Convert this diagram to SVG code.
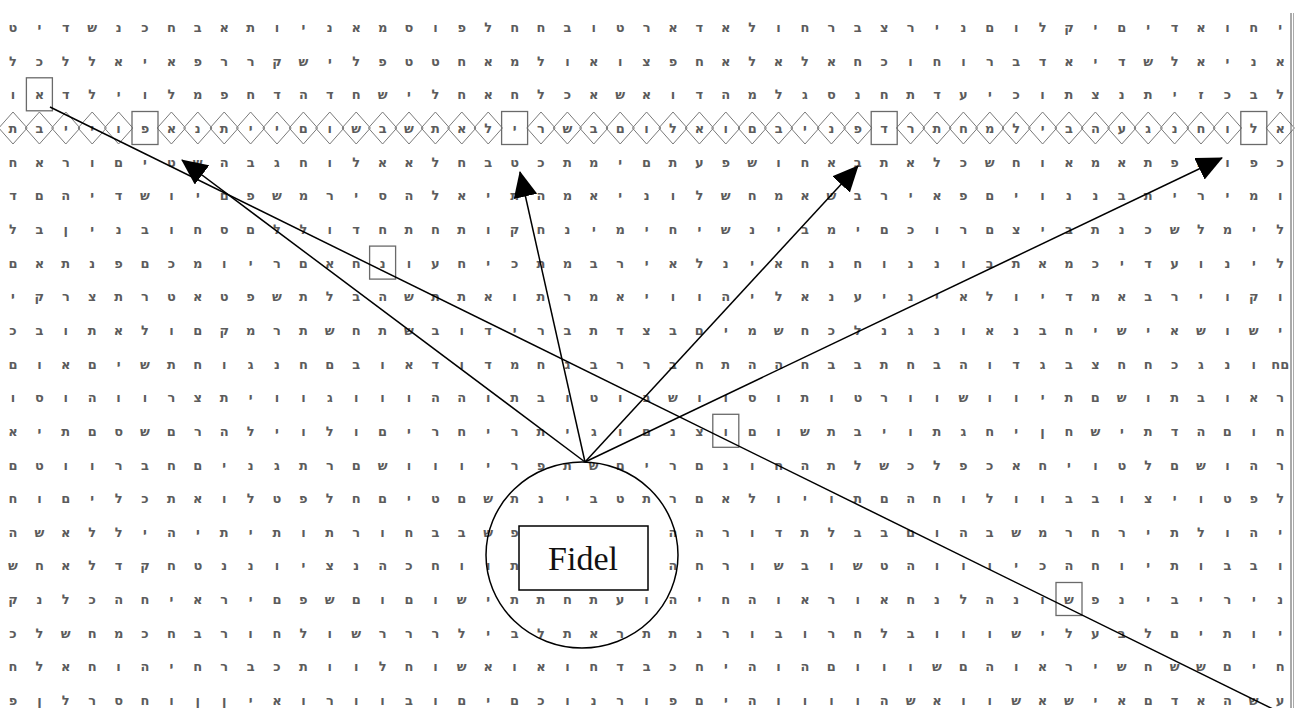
<svg xmlns="http://www.w3.org/2000/svg" xmlns:xlink="http://www.w3.org/1999/xlink" width="1299" height="708" viewBox="0 0 1299 708">
<defs>
<style>
.r{font-family:"DejaVu Sans","Noto Sans",sans-serif;font-size:13px;font-weight:bold;fill:#5c5c5c;text-anchor:middle;direction:ltr;unicode-bidi:bidi-override}
.dm{fill:none;stroke:#7a7a7a;stroke-width:1}
.bx{fill:none;stroke:#6a6a6a;stroke-width:1.3}
.ln{fill:none;stroke:#000;stroke-width:1.5}
.ar{fill:none;stroke:#000;stroke-width:1.5;marker-end:url(#ah)}
</style>
<polygon id="dm" class="dm" points="0,-16 14.2,0 0,16 -14.2,0"/>
<rect id="bx" class="bx" x="-13" y="-16.5" width="26" height="33"/>
<marker id="ah" markerUnits="userSpaceOnUse" viewBox="0 0 26 24" markerWidth="26" markerHeight="24" refX="25" refY="12" orient="auto">
<path d="M0,0 L26,12 L0,24 Z" fill="#000"/>
</marker>
</defs>
<rect width="1299" height="708" fill="#fff"/>
<g id="grid">
<text class="r" y="32" x="13 39.4 65.8 92.2 118.6 145 171.4 197.8 224.2 250.6 277 303.4 329.8 356.2 382.6 409 435.4 461.8 488.2 514.6 541 567.4 593.8 620.2 646.6 673 699.4 725.8 752.2 778.6 805 831.4 857.8 884.2 910.6 937 963.4 989.8 1016.2 1042.6 1069 1095.4 1121.8 1148.2 1174.6 1201 1227.4 1253.8 1280.2">טידשנכחבאתוינאמסופלחחבוטראדאלוחרבצרינםולקיםידאוחי</text>
<text class="r" y="65.7" x="13 39.4 65.8 92.2 118.6 145 171.4 197.8 224.2 250.6 277 303.4 329.8 356.2 382.6 409 435.4 461.8 488.2 514.6 541 567.4 593.8 620.2 646.6 673 699.4 725.8 752.2 778.6 805 831.4 857.8 884.2 910.6 937 963.4 989.8 1016.2 1042.6 1069 1095.4 1121.8 1148.2 1174.6 1201 1227.4 1253.8 1280.2">לכללאיאפררקשילפטטחאמלואוצפחאלאלאחכוחורבדאידשלאינא</text>
<text class="r" y="99.3" x="13 39.4 65.8 92.2 118.6 145 171.4 197.8 224.2 250.6 277 303.4 329.8 356.2 382.6 409 435.4 461.8 488.2 514.6 541 567.4 593.8 620.2 646.6 673 699.4 725.8 752.2 778.6 805 831.4 857.8 884.2 910.6 937 963.4 989.8 1016.2 1042.6 1069 1095.4 1121.8 1148.2 1174.6 1201 1227.4 1253.8 1280.2">ואדליולמפחדהדחשילחאחלכאשאודהמלגסנחתדעיכותצנתיזכבל</text>
<text class="r" y="133" x="13 39.4 65.8 92.2 118.6 145 171.4 197.8 224.2 250.6 277 303.4 329.8 356.2 382.6 409 435.4 461.8 488.2 514.6 541 567.4 593.8 620.2 646.6 673 699.4 725.8 752.2 778.6 805 831.4 857.8 884.2 910.6 937 963.4 989.8 1016.2 1042.6 1069 1095.4 1121.8 1148.2 1174.6 1201 1227.4 1253.8 1280.2">תבייופאנתייםושבשתאלירשבםולאוםבינפדרתחמליבהעגנחולא</text>
<text class="r" y="166.6" x="13 39.4 65.8 92.2 118.6 145 171.4 197.8 224.2 250.6 277 303.4 329.8 356.2 382.6 409 435.4 461.8 488.2 514.6 541 567.4 593.8 620.2 646.6 673 699.4 725.8 752.2 778.6 805 831.4 857.8 884.2 910.6 937 963.4 989.8 1016.2 1042.6 1069 1095.4 1121.8 1148.2 1174.6 1201 1227.4 1253.8 1280.2">חארוםיטשהבגחולאאלחבטכתמיםתעפשוחאבתאלכשחואמאתפהופכ</text>
<text class="r" y="200.3" x="13 39.4 65.8 92.2 118.6 145 171.4 197.8 224.2 250.6 277 303.4 329.8 356.2 382.6 409 435.4 461.8 488.2 514.6 541 567.4 593.8 620.2 646.6 673 699.4 725.8 752.2 778.6 805 831.4 857.8 884.2 910.6 937 963.4 989.8 1016.2 1042.6 1069 1095.4 1121.8 1148.2 1174.6 1201 1227.4 1253.8 1280.2">דםהידשויםפשמריסהלאיתהמאינולשחמאשבריאפםיוננבתירימו</text>
<text class="r" y="233.9" x="13 39.4 65.8 92.2 118.6 145 171.4 197.8 224.2 250.6 277 303.4 329.8 356.2 382.6 409 435.4 461.8 488.2 514.6 541 567.4 593.8 620.2 646.6 673 699.4 725.8 752.2 778.6 805 831.4 857.8 884.2 910.6 937 963.4 989.8 1016.2 1042.6 1069 1095.4 1121.8 1148.2 1174.6 1201 1227.4 1253.8 1280.2">לבןינבוחסםללודחתחתוקחנימיחישניבמיםכורםציבתנכשלמיל</text>
<text class="r" y="267.6" x="13 39.4 65.8 92.2 118.6 145 171.4 197.8 224.2 250.6 277 303.4 329.8 356.2 382.6 409 435.4 461.8 488.2 514.6 541 567.4 593.8 620.2 646.6 673 699.4 725.8 752.2 778.6 805 831.4 857.8 884.2 910.6 937 963.4 989.8 1016.2 1042.6 1069 1095.4 1121.8 1148.2 1174.6 1201 1227.4 1253.8 1280.2">םאתנפםכמוירםאחנועחיכתמבריאלניאחנחוננובתאמכידעוניל</text>
<text class="r" y="301.2" x="13 39.4 65.8 92.2 118.6 145 171.4 197.8 224.2 250.6 277 303.4 329.8 356.2 382.6 409 435.4 461.8 488.2 514.6 541 567.4 593.8 620.2 646.6 673 699.4 725.8 752.2 778.6 805 831.4 857.8 884.2 910.6 937 963.4 989.8 1016.2 1042.6 1069 1095.4 1121.8 1148.2 1174.6 1201 1227.4 1253.8 1280.2">יקרצתרטאטפשתלבהשתתאותרמאיווהילאנעיניאלוידמאבריוקו</text>
<text class="r" y="334.9" x="13 39.4 65.8 92.2 118.6 145 171.4 197.8 224.2 250.6 277 303.4 329.8 356.2 382.6 409 435.4 461.8 488.2 514.6 541 567.4 593.8 620.2 646.6 673 699.4 725.8 752.2 778.6 805 831.4 857.8 884.2 910.6 937 963.4 989.8 1016.2 1042.6 1069 1095.4 1121.8 1148.2 1174.6 1201 1227.4 1253.8 1280.2">כבותאלוםקמרתשחתשבודירבתדצבםימשחכלנגנואנבחישיאשושי</text>
<text class="r" y="368.5" x="13 39.4 65.8 92.2 118.6 145 171.4 197.8 224.2 250.6 277 303.4 329.8 356.2 382.6 409 435.4 461.8 488.2 514.6 541 567.4 593.8 620.2 646.6 673 699.4 725.8 752.2 778.6 805 831.4 857.8 884.2 910.6 937 963.4 989.8 1016.2 1042.6 1069 1095.4 1121.8 1148.2 1174.6 1201 1227.4 1253.8 1280.2">םואםישתחוגנחםבואדודמחגבררבחתההחבבתחבהודגבצחחכגנוחם</text>
<text class="r" y="402.2" x="13 39.4 65.8 92.2 118.6 145 171.4 197.8 224.2 250.6 277 303.4 329.8 356.2 382.6 409 435.4 461.8 488.2 514.6 541 567.4 593.8 620.2 646.6 673 699.4 725.8 752.2 778.6 805 831.4 857.8 884.2 910.6 937 963.4 989.8 1016.2 1042.6 1069 1095.4 1121.8 1148.2 1174.6 1201 1227.4 1253.8 1280.2">וסוהוורצתיווגוווההותבוטובשווסותוטרוושוויתםשותבואר</text>
<text class="r" y="435.8" x="13 39.4 65.8 92.2 118.6 145 171.4 197.8 224.2 250.6 277 303.4 329.8 356.2 382.6 409 435.4 461.8 488.2 514.6 541 567.4 593.8 620.2 646.6 673 699.4 725.8 752.2 778.6 805 831.4 857.8 884.2 910.6 937 963.4 989.8 1016.2 1042.6 1069 1095.4 1121.8 1148.2 1174.6 1201 1227.4 1253.8 1280.2">איתםסשםרהליולוםירחירתיגוםנצוםושתביותגחיןחשיתדהםוח</text>
<text class="r" y="469.5" x="13 39.4 65.8 92.2 118.6 145 171.4 197.8 224.2 250.6 277 303.4 329.8 356.2 382.6 409 435.4 461.8 488.2 514.6 541 567.4 593.8 620.2 646.6 673 699.4 725.8 752.2 778.6 805 831.4 857.8 884.2 910.6 937 963.4 989.8 1016.2 1042.6 1069 1095.4 1121.8 1148.2 1174.6 1201 1227.4 1253.8 1280.2">םטוורבחםינגתרםשוווירפתשםירםנוחהתלשכלפכאחיוטלםשוהר</text>
<text class="r" y="503.1" x="13 39.4 65.8 92.2 118.6 145 171.4 197.8 224.2 250.6 277 303.4 329.8 356.2 382.6 409 435.4 461.8 488.2 514.6 541 567.4 593.8 620.2 646.6 673 699.4 725.8 752.2 778.6 805 831.4 857.8 884.2 910.6 937 963.4 989.8 1016.2 1042.6 1069 1095.4 1121.8 1148.2 1174.6 1201 1227.4 1253.8 1280.2">חוםילכתאולטפלחםיטםשתניבטתרםאלויותםהחולוובבוציוטפל</text>
<text class="r" y="536.8" x="13 39.4 65.8 92.2 118.6 145 171.4 197.8 224.2 250.6 277 303.4 329.8 356.2 382.6 409 435.4 461.8 488.2 514.6">השאלליהיתיתותרוחבבשפ</text>
<text class="r" y="536.8" x="673 699.4 725.8 752.2 778.6 805 831.4 857.8 884.2 910.6 937 963.4 989.8 1016.2 1042.6 1069 1095.4 1121.8 1148.2 1174.6 1201 1227.4 1253.8 1280.2">ההרודתלבבםוהבשמרחריתלוהי</text>
<text class="r" y="570.4" x="13 39.4 65.8 92.2 118.6 145 171.4 197.8 224.2 250.6 277 303.4 329.8 356.2 382.6 409 435.4 461.8 488.2 514.6">שחאלדקחטננויצנהכחוות</text>
<text class="r" y="570.4" x="673 699.4 725.8 752.2 778.6 805 831.4 857.8 884.2 910.6 937 963.4 989.8 1016.2 1042.6 1069 1095.4 1121.8 1148.2 1174.6 1201 1227.4 1253.8 1280.2">החרושבושטהווויכהחויתובבו</text>
<text class="r" y="604.1" x="13 39.4 65.8 92.2 118.6 145 171.4 197.8 224.2 250.6 277 303.4 329.8 356.2 382.6 409 435.4 461.8 488.2 514.6 541 567.4 593.8 620.2 646.6 673 699.4 725.8 752.2 778.6 805 831.4 857.8 884.2 910.6 937 963.4 989.8 1016.2 1042.6 1069 1095.4 1121.8 1148.2 1174.6 1201 1227.4 1253.8 1280.2">קנלכהחיאריםפשםוםושיתתחתעוהיחהוארואחנלהנושפניבירינ</text>
<text class="r" y="637.7" x="13 39.4 65.8 92.2 118.6 145 171.4 197.8 224.2 250.6 277 303.4 329.8 356.2 382.6 409 435.4 461.8 488.2 514.6 541 567.4 593.8 620.2 646.6 673 699.4 725.8 752.2 778.6 805 831.4 857.8 884.2 910.6 937 963.4 989.8 1016.2 1042.6 1069 1095.4 1121.8 1148.2 1174.6 1201 1227.4 1253.8 1280.2">כלשחמכחברוחלושרררליבלתארתתנרובורחלבווושילעבלםיתוי</text>
<text class="r" y="671.4" x="13 39.4 65.8 92.2 118.6 145 171.4 197.8 224.2 250.6 277 303.4 329.8 356.2 382.6 409 435.4 461.8 488.2 514.6 541 567.4 593.8 620.2 646.6 673 699.4 725.8 752.2 778.6 805 831.4 857.8 884.2 910.6 937 963.4 989.8 1016.2 1042.6 1069 1095.4 1121.8 1148.2 1174.6 1201 1227.4 1253.8 1280.2">חלאחוהיחרבכתוולחושאואוחדבכחיהוהםווושםהוארישחששםיח</text>
<text class="r" y="705" x="13 39.4 65.8 92.2 118.6 145 171.4 197.8 224.2 250.6 277 303.4 329.8 356.2 382.6 409 435.4 461.8 488.2 514.6 541 567.4 593.8 620.2 646.6 673 699.4 725.8 752.2 778.6 805 831.4 857.8 884.2 910.6 937 963.4 989.8 1016.2 1042.6 1069 1095.4 1121.8 1148.2 1174.6 1201 1227.4 1253.8 1280.2">פןלרסחוןןיאורוובוםיםכונרופםיהווווהשאוושאשיאםדאהשע</text>
</g>
<g id="diamonds">
<use xlink:href="#dm" x="13" y="128"/><use xlink:href="#dm" x="39.4" y="128"/><use xlink:href="#dm" x="65.8" y="128"/><use xlink:href="#dm" x="92.2" y="128"/><use xlink:href="#dm" x="118.6" y="128"/>
<use xlink:href="#dm" x="171.4" y="128"/><use xlink:href="#dm" x="197.8" y="128"/><use xlink:href="#dm" x="224.2" y="128"/><use xlink:href="#dm" x="250.6" y="128"/><use xlink:href="#dm" x="277" y="128"/><use xlink:href="#dm" x="303.4" y="128"/><use xlink:href="#dm" x="329.8" y="128"/><use xlink:href="#dm" x="356.2" y="128"/><use xlink:href="#dm" x="382.6" y="128"/><use xlink:href="#dm" x="409" y="128"/><use xlink:href="#dm" x="435.4" y="128"/><use xlink:href="#dm" x="461.8" y="128"/><use xlink:href="#dm" x="488.2" y="128"/>
<use xlink:href="#dm" x="541" y="128"/><use xlink:href="#dm" x="567.4" y="128"/><use xlink:href="#dm" x="593.8" y="128"/><use xlink:href="#dm" x="620.2" y="128"/><use xlink:href="#dm" x="646.6" y="128"/><use xlink:href="#dm" x="673" y="128"/><use xlink:href="#dm" x="699.4" y="128"/><use xlink:href="#dm" x="725.8" y="128"/><use xlink:href="#dm" x="752.2" y="128"/><use xlink:href="#dm" x="778.6" y="128"/><use xlink:href="#dm" x="805" y="128"/><use xlink:href="#dm" x="831.4" y="128"/><use xlink:href="#dm" x="857.8" y="128"/>
<use xlink:href="#dm" x="910.6" y="128"/><use xlink:href="#dm" x="937" y="128"/><use xlink:href="#dm" x="963.4" y="128"/><use xlink:href="#dm" x="989.8" y="128"/><use xlink:href="#dm" x="1016.2" y="128"/><use xlink:href="#dm" x="1042.6" y="128"/><use xlink:href="#dm" x="1069" y="128"/><use xlink:href="#dm" x="1095.4" y="128"/><use xlink:href="#dm" x="1121.8" y="128"/><use xlink:href="#dm" x="1148.2" y="128"/><use xlink:href="#dm" x="1174.6" y="128"/><use xlink:href="#dm" x="1201" y="128"/><use xlink:href="#dm" x="1227.4" y="128"/>
<use xlink:href="#dm" x="1280.2" y="128"/>
</g>
<g id="boxes">
<use xlink:href="#bx" x="145" y="128"/><use xlink:href="#bx" x="514.6" y="128"/><use xlink:href="#bx" x="884.2" y="128"/><use xlink:href="#bx" x="1253.8" y="128"/>
<use xlink:href="#bx" x="39.4" y="94.3"/><use xlink:href="#bx" x="382.6" y="262.6"/><use xlink:href="#bx" x="725.8" y="430.8"/><use xlink:href="#bx" x="1069" y="599"/>
</g>
<line x1="1291" y1="13" x2="1291" y2="708" stroke="#555" stroke-width="1"/>
<line x1="1293.5" y1="13" x2="1293.5" y2="708" stroke="#aaa" stroke-width="1"/>
<g id="connectors">
<line class="ln" x1="50" y1="107" x2="1279" y2="712"/>
<line class="ar" x1="585" y1="462" x2="182" y2="160"/>
<line class="ar" x1="585" y1="462" x2="520" y2="172"/>
<line class="ar" x1="585" y1="462" x2="858" y2="166"/>
<line class="ar" x1="585" y1="462" x2="1222" y2="158"/>
</g>
<g id="fidel">
<ellipse cx="582" cy="555" rx="96" ry="93" fill="none" stroke="#000" stroke-width="1.5"/>
<rect x="519" y="526" width="129" height="64" fill="#fff" stroke="#000" stroke-width="1.5"/>
<text x="583" y="570" font-family="Liberation Serif, serif" font-size="34" fill="#111" text-anchor="middle">Fidel</text>
</g>
</svg>
